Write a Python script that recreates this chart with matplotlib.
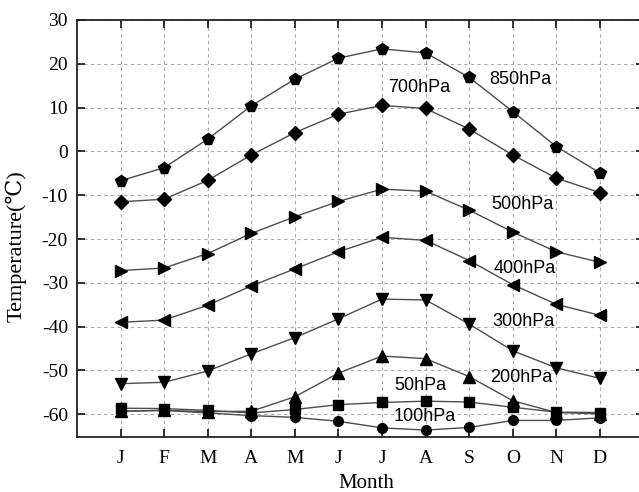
import matplotlib
matplotlib.use("Agg")
import matplotlib.pyplot as plt

plt.rcParams["axes.unicode_minus"] = False

months = ["J", "F", "M", "A", "M", "J", "J", "A", "S", "O", "N", "D"]
x = list(range(1, 13))

t850 = [-6.7, -3.7, 2.8, 10.4, 16.5, 21.3, 23.4, 22.5, 16.9, 9.1, 1.1, -4.9]
t700 = [-11.5, -10.9, -6.6, -0.8, 4.3, 8.5, 10.5, 9.8, 5.1, -0.8, -6.1, -9.4]
t500 = [-27.2, -26.6, -23.3, -18.7, -14.9, -11.4, -8.6, -9.1, -13.4, -18.4, -22.9, -25.3]
t400 = [-39.0, -38.5, -35.1, -30.7, -26.8, -22.9, -19.6, -20.3, -24.9, -30.4, -34.9, -37.4]
t300 = [-53.0, -52.7, -50.1, -46.2, -42.5, -38.2, -33.7, -33.9, -39.4, -45.5, -49.4, -51.8]
t200 = [-59.3, -59.1, -59.4, -59.3, -56.0, -50.6, -46.7, -47.3, -51.4, -56.9, -59.6, -59.9]
t50 = [-58.6, -58.7, -59.1, -59.7, -58.9, -57.8, -57.3, -57.0, -57.2, -58.4, -59.5, -59.6]
t100 = [-59.3, -59.1, -59.7, -60.3, -60.7, -61.6, -63.1, -63.6, -63.0, -61.4, -61.4, -60.8]

series = [
    (t850, "p", 8.5),
    (t700, "D", 7.0),
    (t500, ">", 8.5),
    (t400, "<", 8.5),
    (t300, "v", 8.5),
    (t200, "^", 8.5),
    (t50, "s", 6.5),
    (t100, "o", 7.0),
]

labels = ["850hPa", "700hPa", "500hPa", "400hPa", "300hPa", "200hPa", "50hPa", "100hPa"]
label_x = [10.18, 7.85, 10.22, 10.27, 10.25, 10.2, 7.87, 7.98]
label_y = [16.5, 14.6, -12.0, -26.7, -38.9, -51.6, -53.5, -60.4]

fig = plt.figure(figsize=(6.39, 4.92), dpi=100)
ax = fig.add_axes([77 / 639, 54.7 / 492, 566.5 / 639, 417.3 / 492])

for vals, m, ms in series:
    ax.plot(x, vals, color="#4d4d4d", lw=1.0, marker=m, markersize=ms,
            markerfacecolor="black", markeredgecolor="black", zorder=3)

for lab, lx, ly in zip(labels, label_x, label_y):
    ax.text(lx, ly, lab, ha="center", va="center", fontsize=13,
            family="Liberation Sans", color="black", zorder=4)

ax.set_xlim(0, 13)
ax.set_ylim(-65.25, 30)
ax.set_xticks(x)
ax.set_xticklabels(months)
ax.set_yticks(range(-60, 31, 10))

serif = ["Liberation Serif", "DejaVu Serif", "DejaVu Sans"]
for lbl in ax.get_xticklabels() + ax.get_yticklabels():
    lbl.set_family(serif)
    lbl.set_fontsize(14)

ax.tick_params(direction="in", length=6, width=1.3, top=True, right=True,
               color="#222222")
ax.tick_params(axis="y", pad=6.5)
ax.tick_params(axis="x", pad=9)

ax.grid(True, color="#aaaaaa", linestyle=(0, (3, 3)), linewidth=0.8, zorder=0)
ax.set_axisbelow(True)
for sp in ax.spines.values():
    sp.set_linewidth(1.3)
    sp.set_color("#222222")

ax.set_xlabel("Month", family=serif, fontsize=15, va="center", ha="center")
ax.xaxis.set_label_coords((366 - 77) / 566.5, -(484 - 437.3) / 417.3)
ax.set_ylabel("Temperature(℃)", family=serif, fontsize=16, va="center", ha="center")
ax.yaxis.set_label_coords(-(77 - 16) / 566.5, (437.3 - 246) / 417.3)

fig.savefig("out.png", dpi=100)
